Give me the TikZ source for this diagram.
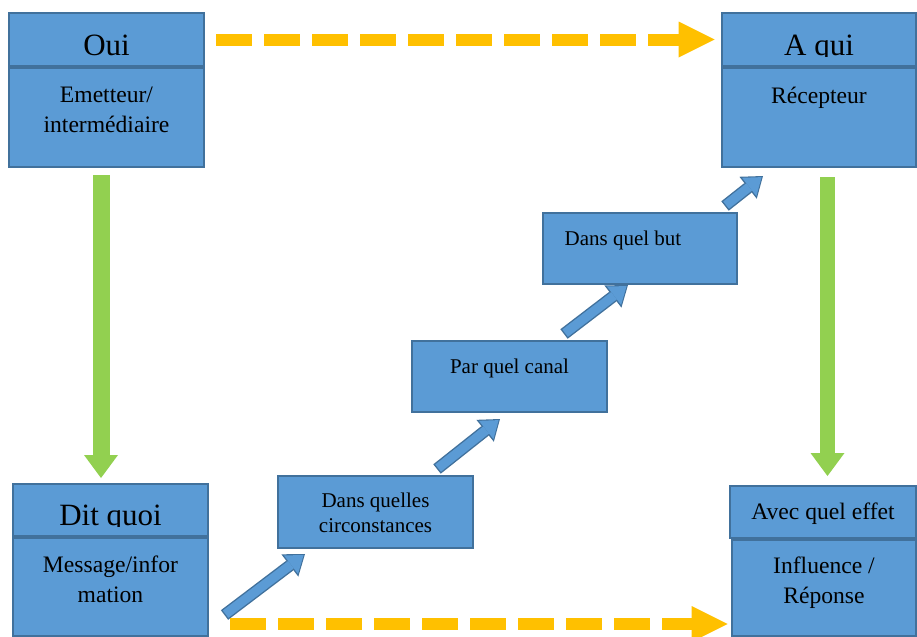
\documentclass[tikz,border=0pt]{standalone}
\usepackage{fontspec}
\setmainfont{Liberation Serif}
\usepackage{tikz}
\usetikzlibrary{arrows.meta}

\definecolor{boitebleu}{HTML}{5B9BD5}
\definecolor{bordbleu}{HTML}{41719C}
\definecolor{jaune}{HTML}{FFC000}
\definecolor{vert}{HTML}{92D050}

\tikzset{
  boite/.style={draw=bordbleu, fill=boitebleu, line width=1pt, inner sep=0pt},
  titre/.style={anchor=base, font=\fontsize{15.5}{18}\selectfont},
  grand/.style={anchor=base, align=center, font=\fontsize{11.8}{15}\selectfont},
  petit/.style={anchor=base, align=center, font=\fontsize{10.5}{12.5}\selectfont},
  pointille/.style={draw=jaune, line width=6pt, dash pattern=on 18pt off 6pt,
    -{Triangle[length=18pt,width=18pt,line width=0pt]}},
  descente/.style={draw=vert, line width=8.5pt, -{Triangle[length=11.5pt,width=17pt,line width=0pt]}},
  bordfleche/.style={draw=bordbleu, line width=6pt, -{Triangle[length=9.5pt,width=14pt,line width=0pt]}},
  corpsfleche/.style={draw=boitebleu, line width=4.6pt, shorten <=0.7pt, shorten >=0.9pt,
    -{Triangle[length=7.9pt,width=11.6pt,line width=0pt]}}
}
\newcommand{\fleche}[2]{%
  \draw[bordfleche] (#1) -- (#2);
  \draw[corpsfleche] (#1) -- (#2);}

\begin{document}
\begin{tikzpicture}[x=0.5pt, y=-0.5pt]
  \useasboundingbox (0,0) rectangle (917,637);

  \node[boite, minimum width=97.5pt, minimum height=26.5pt] (oui) at (106.5,39.5) {};
  \node[boite, minimum width=97.5pt, minimum height=49.5pt] (emet) at (106.5,117.5) {};
  \node[boite, minimum width=97pt, minimum height=26.5pt] (aqui) at (819,39.5) {};
  \node[boite, minimum width=97pt, minimum height=49.5pt] (recep) at (819,117.5) {};
  \node[boite, minimum width=97.5pt, minimum height=26pt] (ditquoi) at (110.5,510) {};
  \node[boite, minimum width=97.5pt, minimum height=49pt] (msg) at (110.5,587) {};
  \node[boite, minimum width=93pt, minimum height=26pt] (effet) at (823,512) {};
  \node[boite, minimum width=92pt, minimum height=48pt] (influ) at (824,588) {};
  \node[boite, minimum width=97.5pt, minimum height=36pt] (circ) at (375.5,512) {};
  \node[boite, minimum width=97.5pt, minimum height=35.5pt] (canal) at (509.5,376.5) {};
  \node[boite, minimum width=97pt, minimum height=35.5pt] (but) at (640,248.5) {};

  \coordinate (v1a) at (101,175);   \coordinate (v1b) at (101,478);
  \coordinate (v2a) at (827.5,177); \coordinate (v2b) at (827.5,476);
  \draw[descente] (v1a) -- (v1b);
  \draw[descente, line width=7.5pt] (v2a) -- (v2b);

  \coordinate (f1a) at (224.5,615); \coordinate (f1b) at (305,554);
  \coordinate (f2a) at (437,469); \coordinate (f2b) at (500,419);
  \coordinate (f3a) at (564,334); \coordinate (f3b) at (628,285);
  \coordinate (f4a) at (725,206); \coordinate (f4b) at (763,176);
  \fleche{f1a}{f1b}
  \fleche{f2a}{f2b}
  \fleche{f3a}{f3b}
  \fleche{f4a}{f4b}

  \draw[pointille, shorten <=5.5pt, shorten >=3.25pt] (oui.east) -- (aqui.west);
  \coordinate (bas) at (0,624);
  \draw[pointille, shorten <=10.6pt, shorten >=1.7pt] (msg.east |- bas) -- (influ.west |- bas);

  \node[titre] (toui) at (106.5,55) {Oui};
  \begin{scope}
    \clip (722,13) rectangle (916,56.5);
    \node[titre] (taqui) at (819,55) {A qui};
  \end{scope}
  \begin{scope}
    \clip (13,484) rectangle (208,526.5);
    \node[titre] (tditquoi) at (110.5,525) {Dit quoi};
  \end{scope}

  \node[grand] (temet) at (106.5,132) {Emetteur/\\intermédiaire};
  \node[grand] (trecep) at (819,103) {Récepteur};
  \node[grand] (tmsg) at (110.5,602) {Message/infor\\mation};
  \node[grand] (teffet) at (823,519) {Avec quel effet};
  \node[grand] (tinflu) at (824,603) {Influence /\\Réponse};
  \node[petit] (tcirc) at (375.5,532) {Dans quelles\\circonstances};
  \node[petit] (tcanal) at (509.5,373) {Par quel canal};
  \node[petit] (tbut) at (623,245) {Dans quel but};
\end{tikzpicture}
\end{document}
